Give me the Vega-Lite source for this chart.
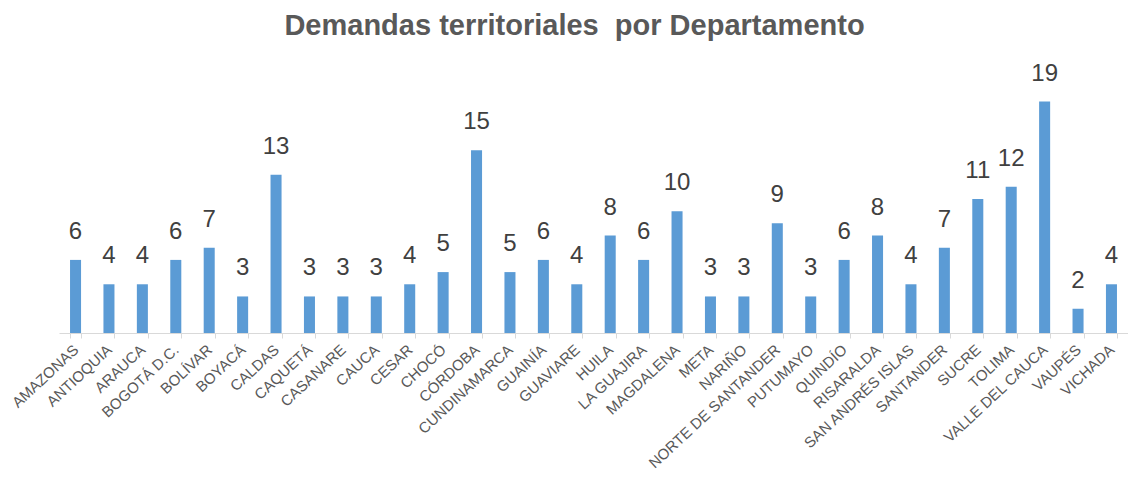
{
  "$schema": "https://vega.github.io/schema/vega-lite/v6.json",
  "autosize": {"type": "none"},
  "width": 1069,
  "height": 268,
  "padding": {"left": 59, "top": 65, "right": 0, "bottom": 161},
  "background": "white",
  "title": {
    "text": "Demandas territoriales\u00a0 por Departamento",
    "font": "Liberation Sans",
    "fontSize": 29,
    "fontWeight": "bold",
    "color": "#595959",
    "anchor": "middle",
    "dx": -19,
    "offset": 21
  },
  "data": {
    "values": [
      {"depto": "AMAZONAS", "n": 6},
      {"depto": "ANTIOQUIA", "n": 4},
      {"depto": "ARAUCA", "n": 4},
      {"depto": "BOGOTÁ D.C.", "n": 6},
      {"depto": "BOLÍVAR", "n": 7},
      {"depto": "BOYACÁ", "n": 3},
      {"depto": "CALDAS", "n": 13},
      {"depto": "CAQUETÁ", "n": 3},
      {"depto": "CASANARE", "n": 3},
      {"depto": "CAUCA", "n": 3},
      {"depto": "CESAR", "n": 4},
      {"depto": "CHOCÓ", "n": 5},
      {"depto": "CÓRDOBA", "n": 15},
      {"depto": "CUNDINAMARCA", "n": 5},
      {"depto": "GUAINÍA", "n": 6},
      {"depto": "GUAVIARE", "n": 4},
      {"depto": "HUILA", "n": 8},
      {"depto": "LA GUAJIRA", "n": 6},
      {"depto": "MAGDALENA", "n": 10},
      {"depto": "META", "n": 3},
      {"depto": "NARIÑO", "n": 3},
      {"depto": "NORTE DE SANTANDER", "n": 9},
      {"depto": "PUTUMAYO", "n": 3},
      {"depto": "QUINDÍO", "n": 6},
      {"depto": "RISARALDA", "n": 8},
      {"depto": "SAN ANDRÉS ISLAS", "n": 4},
      {"depto": "SANTANDER", "n": 7},
      {"depto": "SUCRE", "n": 11},
      {"depto": "TOLIMA", "n": 12},
      {"depto": "VALLE DEL CAUCA", "n": 19},
      {"depto": "VAUPÉS", "n": 2},
      {"depto": "VICHADA", "n": 4}
    ]
  },
  "encoding": {
    "x": {
      "field": "depto",
      "type": "nominal",
      "sort": null,
      "scale": {"paddingInner": 0.67, "paddingOuter": 0.33},
      "axis": {
        "title": null,
        "labelAngle": -43,
        "labelAlign": "right",
        "labelBaseline": "middle",
        "labelFont": "Liberation Sans",
        "labelFontSize": 15,
        "labelColor": "#595959",
        "labelPadding": 9,
        "labelOverlap": false,
        "labelLimit": 300,
        "domainColor": "#d9d9d9",
        "tickColor": "#d9d9d9",
        "tickSize": 5,
        "tickBand": "extent",
        "grid": false
      }
    },
    "y": {
      "field": "n",
      "type": "quantitative",
      "scale": {"domain": [0, 22], "nice": false},
      "axis": null
    }
  },
  "layer": [
    {"mark": {"type": "bar", "color": "#5b9bd5"}},
    {
      "mark": {"type": "text", "baseline": "bottom", "dy": -16, "font": "Liberation Sans", "fontSize": 24, "color": "#404040"},
      "encoding": {"text": {"field": "n", "type": "quantitative"}}
    }
  ],
  "config": {"view": {"stroke": null}}
}
